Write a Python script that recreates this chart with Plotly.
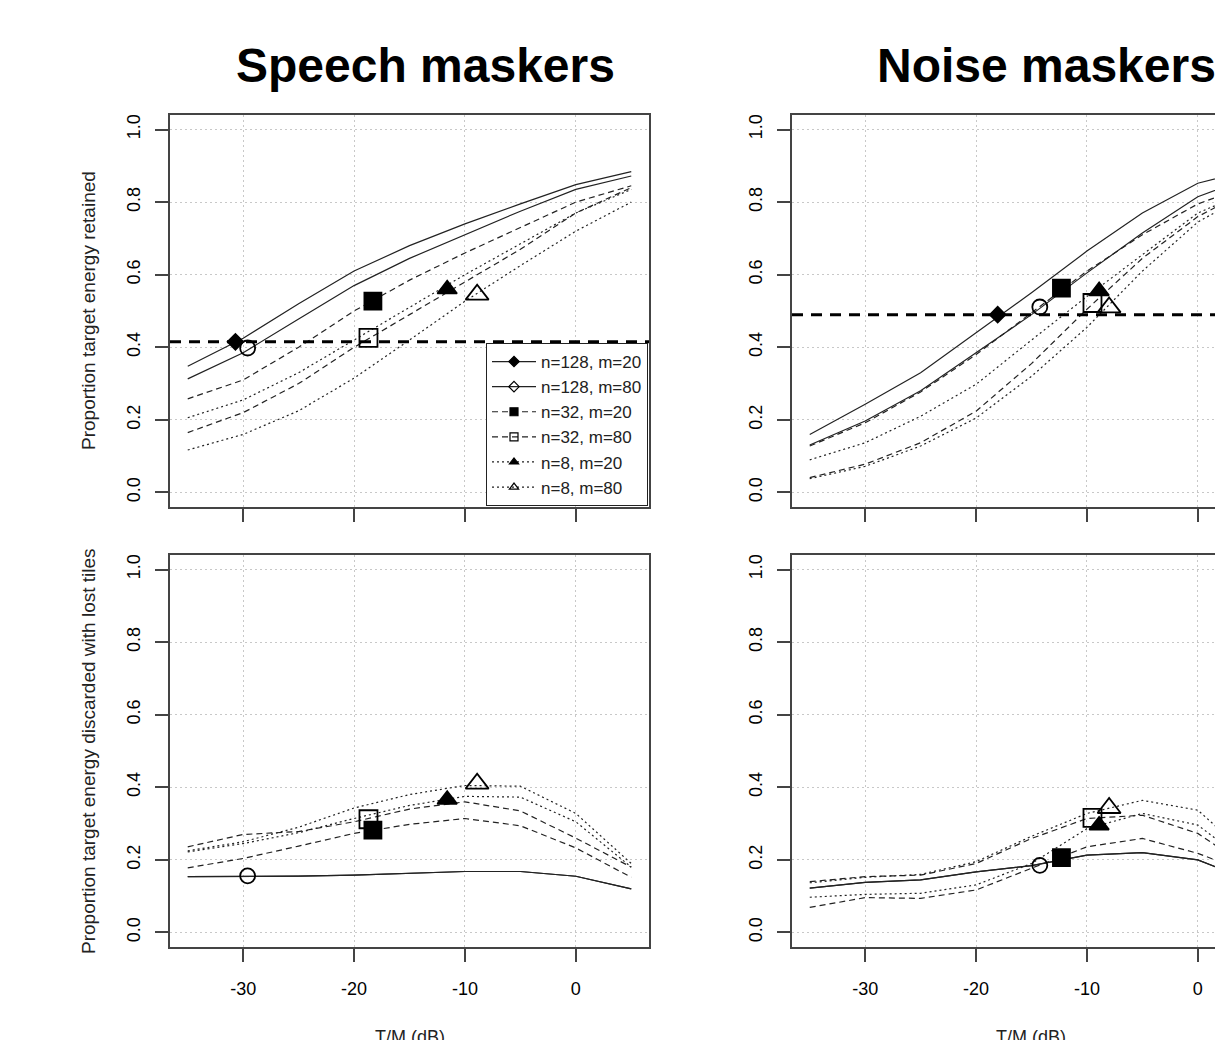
import plotly.graph_objects as go

# body margin is removed after rendering (see post_script) -> figure origin at page (0, 0)
OFF = 0
W, H = 1215, 1040
FONT = "Liberation Sans, Arial, Helvetica, sans-serif"

# ---------------- data ----------------
tmr_db = [-35, -30, -25, -20, -15, -10, -5, 0, 5]
series_names = ["n=128, m=20", "n=128, m=80", "n=32, m=20",
                "n=32, m=80", "n=8, m=20", "n=8, m=80"]
x_ticks = [-30, -20, -10, 0]
y_ticks = [0.0, 0.2, 0.4, 0.6, 0.8, 1.0]

# Speech maskers - proportion of target energy retained
sp_ret_n128_m20 = [0.348, 0.425, 0.520, 0.610, 0.680, 0.740, 0.795, 0.848, 0.884]
sp_ret_n128_m80 = [0.313, 0.385, 0.478, 0.570, 0.645, 0.710, 0.775, 0.835, 0.872]
sp_ret_n32_m20 = [0.258, 0.310, 0.400, 0.500, 0.585, 0.660, 0.730, 0.800, 0.845]
sp_ret_n32_m80 = [0.165, 0.220, 0.300, 0.400, 0.490, 0.580, 0.670, 0.770, 0.840]
sp_ret_n8_m20 = [0.206, 0.255, 0.330, 0.420, 0.510, 0.600, 0.685, 0.770, 0.835]
sp_ret_n8_m80 = [0.117, 0.160, 0.225, 0.315, 0.420, 0.527, 0.625, 0.720, 0.800]

# Noise maskers - proportion of target energy retained
no_ret_n128_m20 = [0.160, 0.243, 0.330, 0.440, 0.550, 0.665, 0.770, 0.852, 0.890]
no_ret_n128_m80 = [0.131, 0.197, 0.280, 0.385, 0.490, 0.605, 0.715, 0.815, 0.870]
no_ret_n32_m20 = [0.128, 0.192, 0.277, 0.380, 0.495, 0.610, 0.710, 0.795, 0.850]
no_ret_n32_m80 = [0.041, 0.078, 0.137, 0.224, 0.355, 0.505, 0.645, 0.760, 0.840]
no_ret_n8_m20 = [0.090, 0.137, 0.210, 0.298, 0.420, 0.540, 0.655, 0.770, 0.835]
no_ret_n8_m80 = [0.038, 0.072, 0.128, 0.205, 0.320, 0.455, 0.610, 0.745, 0.830]

# Speech maskers - proportion of target energy discarded with lost tiles
sp_dis_n128_m20 = [0.154, 0.154, 0.155, 0.158, 0.163, 0.168, 0.168, 0.155, 0.120]
sp_dis_n128_m80 = [0.154, 0.154, 0.155, 0.158, 0.163, 0.168, 0.168, 0.155, 0.120]
sp_dis_n32_m20 = [0.178, 0.204, 0.238, 0.273, 0.298, 0.314, 0.294, 0.233, 0.152]
sp_dis_n32_m80 = [0.236, 0.270, 0.278, 0.305, 0.340, 0.360, 0.335, 0.260, 0.180]
sp_dis_n8_m20 = [0.222, 0.245, 0.275, 0.314, 0.350, 0.375, 0.373, 0.305, 0.180]
sp_dis_n8_m80 = [0.225, 0.250, 0.290, 0.343, 0.380, 0.405, 0.403, 0.328, 0.190]

# Noise maskers - proportion of target energy discarded with lost tiles
no_dis_n128_m20 = [0.122, 0.138, 0.145, 0.167, 0.184, 0.213, 0.220, 0.200, 0.140]
no_dis_n128_m80 = [0.122, 0.138, 0.145, 0.167, 0.184, 0.213, 0.220, 0.200, 0.140]
no_dis_n32_m20 = [0.069, 0.096, 0.094, 0.117, 0.177, 0.236, 0.259, 0.218, 0.160]
no_dis_n32_m80 = [0.140, 0.154, 0.158, 0.190, 0.259, 0.314, 0.323, 0.273, 0.170]
no_dis_n8_m20 = [0.097, 0.105, 0.108, 0.131, 0.190, 0.286, 0.328, 0.296, 0.180]
no_dis_n8_m80 = [0.137, 0.152, 0.160, 0.195, 0.265, 0.328, 0.364, 0.337, 0.200]

# threshold T/M for each configuration (markers)
speech_srt_db = [-30.7, -29.6, -18.3, -18.7, -11.6, -8.9]
noise_srt_db = [-18.05, -14.25, -12.3, -9.5, -8.9, -8.0]
sp_ret_at_srt = [0.415, 0.398, 0.527, 0.426, 0.560, 0.545]
no_ret_at_srt = [0.490, 0.511, 0.563, 0.522, 0.555, 0.510]
sp_dis_at_srt = [None, 0.156, 0.282, 0.312, 0.366, 0.410]
no_dis_at_srt = [None, 0.185, 0.206, 0.316, 0.295, 0.343]

# reference levels (retained energy at the n=128, m=20 threshold)
speech_ref_level = 0.415
noise_ref_level = 0.49

# ---------------- styles ----------------
dashes = ["solid", "solid", "6px,4px", "6px,4px", "2px,3px", "2px,3px"]
plot_symbols = ["diamond", "circle-open", "square", "square-open",
                "triangle-up", "triangle-up-open"]
legend_symbols = ["diamond", "diamond-open", "square", "square-open",
                  "triangle-up", "triangle-up-open"]
plot_sizes = [12, 15, 17, 18, 17, 20]
LINE_C = "#222222"
AX_C = "#444444"

def px2x(p):  # page pixel -> paper x
    return (p - OFF) / W

def px2y(p):  # page pixel -> paper y
    return 1 - (p - OFF) / H

dom_L = [px2x(170), px2x(649)]
dom_R = [px2x(792), 1.0]
dom_T = [px2y(507), px2y(115)]
dom_B = [px2y(947), px2y(555)]

panels = [
    ("x", "y", [sp_ret_n128_m20, sp_ret_n128_m80, sp_ret_n32_m20,
                sp_ret_n32_m80, sp_ret_n8_m20, sp_ret_n8_m80],
     speech_srt_db, sp_ret_at_srt, speech_ref_level),
    ("x2", "y2", [no_ret_n128_m20, no_ret_n128_m80, no_ret_n32_m20,
                  no_ret_n32_m80, no_ret_n8_m20, no_ret_n8_m80],
     noise_srt_db, no_ret_at_srt, noise_ref_level),
    ("x3", "y3", [sp_dis_n128_m20, sp_dis_n128_m80, sp_dis_n32_m20,
                  sp_dis_n32_m80, sp_dis_n8_m20, sp_dis_n8_m80],
     speech_srt_db, sp_dis_at_srt, None),
    ("x4", "y4", [no_dis_n128_m20, no_dis_n128_m80, no_dis_n32_m20,
                  no_dis_n32_m80, no_dis_n8_m20, no_dis_n8_m80],
     noise_srt_db, no_dis_at_srt, None),
]

fig = go.Figure()
shapes = []
for xa, ya, curves, sx, sy, ref in panels:
    for i, vals in enumerate(curves):
        fig.add_trace(go.Scatter(
            x=tmr_db, y=vals, mode="lines", xaxis=xa, yaxis=ya,
            line=dict(color=LINE_C, width=1.2, dash=dashes[i]),
            showlegend=False, hoverinfo="skip"))
    for i in range(len(series_names)):
        if sy[i] is None:
            continue
        fig.add_trace(go.Scatter(
            x=[sx[i]], y=[sy[i]], mode="markers", xaxis=xa, yaxis=ya,
            marker=dict(symbol=plot_symbols[i], size=plot_sizes[i], color="black",
                        line=dict(color="black", width=1.8)),
            showlegend=False, hoverinfo="skip"))
    if ref is not None:
        shapes.append(dict(type="line", xref=f"{xa} domain", yref=ya,
                           x0=0, x1=1, y0=ref, y1=ref,
                           line=dict(color="black", width=3, dash="11px,8px")))

# legend entries (top-left panel)
for i, name in enumerate(series_names):
    fig.add_trace(go.Scatter(
        x=[None], y=[None], mode="lines+markers", name=name, xaxis="x", yaxis="y",
        line=dict(color=LINE_C, width=1.2, dash=dashes[i]),
        marker=dict(symbol=legend_symbols[i], size=8, color="black",
                    line=dict(color="black", width=1.2)),
        showlegend=True))

def xax(domain, anchor, rng, labels):
    return dict(domain=domain, anchor=anchor, range=rng, tickmode="array",
                tickvals=x_ticks, ticktext=[str(v) for v in x_ticks],
                showticklabels=labels, ticks="outside", ticklen=13, tickwidth=1.5,
                tickcolor=AX_C, showline=True, linecolor=AX_C, linewidth=1.5,
                mirror=True, showgrid=True, gridcolor="#c8c8c8", griddash="2px,3px",
                gridwidth=1, zeroline=False, automargin=False,
                tickfont=dict(family=FONT, size=18, color="black"),
                ticklabelstandoff=12)

def yax(domain, anchor, mirror):
    return dict(domain=domain, anchor=anchor, range=[-0.04, 1.04], tickmode="array",
                tickvals=y_ticks, ticktext=[f"{v:.1f}" for v in y_ticks],
                tickangle=-90, ticks="outside", ticklen=13, tickwidth=1.5,
                tickcolor=AX_C, showline=True, linecolor=AX_C, linewidth=1.5,
                mirror=mirror, showgrid=True, gridcolor="#c8c8c8", griddash="2px,3px",
                gridwidth=1, zeroline=False, automargin=False,
                tickfont=dict(family=FONT, size=18, color="black"),
                ticklabelstandoff=8)

px_per_db = (649 - 170) / 43.2
xr_L = [-36.6, 6.6]
xr_R = [-36.6, -36.6 + (1215 - 792) / px_per_db]

annotations = [
    dict(text="<b>Speech maskers</b>", x=px2x(425), y=px2y(65), xref="paper", yref="paper",
         showarrow=False, xanchor="center", yanchor="middle",
         font=dict(family=FONT, size=48, color="black")),
    dict(text="<b>Noise maskers</b>", x=px2x(1046), y=px2y(65), xref="paper", yref="paper",
         showarrow=False, xanchor="center", yanchor="middle",
         font=dict(family=FONT, size=48, color="black")),
    dict(text="Proportion target energy retained", x=px2x(88), y=px2y(311),
         xref="paper", yref="paper", showarrow=False, textangle=-90,
         xanchor="center", yanchor="middle", font=dict(family=FONT, size=19, color="#222")),
    dict(text="Proportion target energy discarded with lost tiles", x=px2x(88), y=px2y(751),
         xref="paper", yref="paper", showarrow=False, textangle=-90,
         xanchor="center", yanchor="middle", font=dict(family=FONT, size=19, color="#222")),
    dict(text="T/M (dB)", x=px2x(409.5), y=px2y(1025), xref="paper", yref="paper",
         showarrow=False, xanchor="center", yanchor="top",
         font=dict(family=FONT, size=18, color="#222")),
    dict(text="T/M (dB)", x=px2x(1031), y=px2y(1025), xref="paper", yref="paper",
         showarrow=False, xanchor="center", yanchor="top",
         font=dict(family=FONT, size=18, color="#222")),
]

fig.update_layout(
    width=W, height=H, margin=dict(l=0, r=0, t=0, b=0, autoexpand=False),
    paper_bgcolor="white", plot_bgcolor="white",
    xaxis=xax(dom_L, "y", xr_L, False),
    xaxis2=xax(dom_R, "y2", xr_R, False),
    xaxis3=xax(dom_L, "y3", xr_L, True),
    xaxis4=xax(dom_R, "y4", xr_R, True),
    yaxis=yax(dom_T, "x", True),
    yaxis2=yax(dom_T, "x2", False),
    yaxis3=yax(dom_B, "x3", True),
    yaxis4=yax(dom_B, "x4", False),
    shapes=shapes, annotations=annotations,
    legend=dict(x=px2x(648), xanchor="right", y=px2y(506), yanchor="bottom",
                bgcolor="white", bordercolor="#222", borderwidth=1,
                font=dict(family=FONT, size=17, color="#222"),
                itemwidth=44, tracegroupgap=0),
    showlegend=True,
)

fig.write_html(
    "out.html",
    config={"displayModeBar": False},
    post_script="document.body.style.margin='0px';"
                "document.documentElement.style.overflow='hidden';"
                "document.body.style.overflow='hidden';",
)
